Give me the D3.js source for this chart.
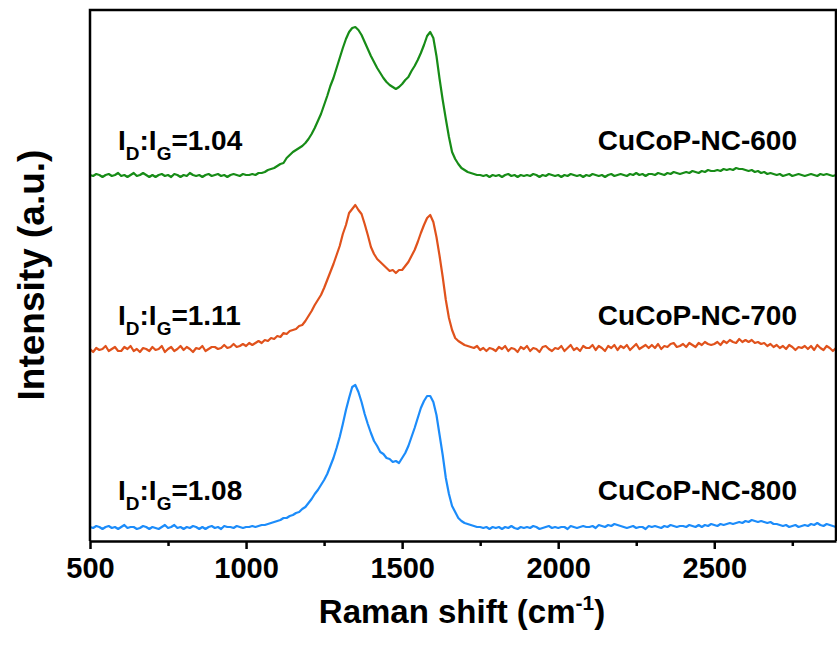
<!DOCTYPE html>
<html>
<head>
<meta charset="utf-8">
<script src="https://cdn.jsdelivr.net/npm/d3@7"></script>
<style>
  html, body { margin: 0; padding: 0; background: #fff; }
  svg { display: block; }
  text { font-family: "Liberation Sans", Arial, Helvetica, sans-serif; font-weight: bold; fill: #000; }
</style>
</head>
<body>
<script>
// Raman shift grid: 500 .. 2890 cm^-1, step 10
const shiftStart = 500, shiftStep = 10;

// Intensities (a.u., stacked with offsets as in the figure)
const nc800 = [
  14,13,15,14,12,14,15,13,14,12, 14,16,13,14,14,12,13,15,14,12,
  14,13,12,14,16,13,14,16,13,14, 12,14,13,15,14,12,14,12,14,15,
  13,14,12,15,14,14,13,15,14,13,
  14,14,15,14,15,16,16,17,18,19,
  20,21,23,23,25,26,28,29,32,34,
  38,42,47,51,56,61,67,75,83,93,
  104,117,131,143,154,156,149,139,127,117,
  108,100,95,89,87,83,82,79,80,78,
  83,88,95,104,113,123,133,140,145,145,
  139,126,106,86,63,47,35,29,23,20,
  18,17,16,15,14,14,13,14,12,14,
  13,14,12,14,13,15,13,12,14,13,
  14,13,15,14,12,13,14,15,13,14,
  13,14,14,12,15,14,13,14,15,14,
  14,15,13,16,15,14,16,15,17,16,
  15,14,13,14,15,13,14,14,12,15,
  14,15,14,13,15,14,16,15,14,15,
  15,14,16,15,14,16,14,16,15,17,
  16,15,17,16,17,18,17,18,19,18,
  20,19,21,20,19,20,19,18,19,17,
  17,16,15,16,14,15,16,14,15,16,
  15,17,16,18,16,15,17,16,15,14
];

const nc700 = [
  192,189,193,191,192,195,190,192,194,190, 190,194,192,195,190,192,189,193,192,190,
  194,191,192,195,189,192,194,190,192,195, 191,194,192,189,193,192,195,190,192,194,
  194,192,193,196,193,194,197,194,195,197,
  195,198,196,198,200,198,201,200,203,202,
  205,204,208,207,210,211,212,215,216,220,
  225,230,236,241,246,253,261,269,277,286,
  295,307,316,328,332,336,331,327,317,306,
  294,287,282,279,276,273,270,271,268,271,
  271,275,279,285,291,299,308,316,323,326,
  319,304,285,264,241,223,211,203,200,198,
  196,195,194,193,195,191,193,190,193,192,
  190,194,192,195,190,193,192,189,194,192,
  195,190,193,192,189,194,195,192,190,193,
  192,195,190,193,196,191,193,190,195,193,
  193,196,191,195,193,190,195,193,196,191,
  195,193,196,191,194,197,192,194,196,193,
  196,193,197,192,195,194,197,198,194,195,
  197,194,198,196,194,198,196,199,197,196,
  197,199,196,200,198,201,199,198,202,199,
  201,199,201,198,199,197,198,195,197,194,
  196,193,195,192,196,194,191,194,193,195,
  192,195,191,196,193,191,195,193,190,193
];

const nc600 = [
  366,365,367,366,364,366,367,365,366,368, 365,366,364,366,368,365,366,368,366,364,
  366,364,366,367,365,366,364,367,366,364, 366,365,368,366,365,366,364,366,367,365,
  366,367,365,366,364,366,367,366,365,367,
  366,366,367,366,368,368,369,371,372,373,
  375,377,378,383,386,389,391,393,395,398,
  402,407,413,420,427,436,445,455,463,473,
  483,493,502,509,513,514,511,506,499,492,
  485,479,473,468,463,459,456,454,452,454,
  457,461,464,470,475,481,488,496,505,509,
  503,485,462,441,422,404,389,382,377,373,
  371,369,368,367,366,366,365,366,364,366,
  365,366,364,366,367,365,366,364,366,365,
  366,365,367,366,364,366,365,367,366,365,
  366,364,366,365,367,366,365,366,364,366,
  365,367,366,365,366,364,366,367,365,366,
  367,366,365,367,366,368,366,367,365,367,
  367,366,368,367,366,368,367,369,368,367,
  368,369,368,370,369,368,370,369,371,370,
  370,371,370,372,371,372,371,373,372,372,
  371,370,371,369,370,368,369,367,368,367,
  366,367,365,366,367,365,366,367,366,365,
  366,367,366,365,367,366,367,366,365,366
];

const seriesNames = ["CuCoP-NC-600", "CuCoP-NC-700", "CuCoP-NC-800"];
const seriesColors = ["#178c17", "#e0521c", "#1c8cfa"];
const ratios = ["1.04", "1.11", "1.08"];
const xTicks = [500, 1000, 1500, 2000, 2500];
const xMinorTicks = [750, 1250, 1750, 2250, 2750];

const W = 837, H = 646;
const margin = { left: 90, top: 10, right: 1, bottom: 105 };
const x = d3.scaleLinear().domain([500, 2890]).range([margin.left, W - margin.right]);
const y = d3.scaleLinear().domain([0, 531]).range([H - margin.bottom, margin.top]);

const svg = d3.select("body").append("svg").attr("width", W).attr("height", H);

const allSeries = [nc600, nc700, nc800];
const line = d3.line()
  .x((d, i) => x(shiftStart + i * shiftStep))
  .y(d => y(d));

allSeries.forEach((s, k) => {
  svg.append("path")
    .datum(s)
    .attr("fill", "none")
    .attr("stroke", seriesColors[k])
    .attr("stroke-width", 2.2)
    .attr("stroke-linejoin", "round")
    .attr("d", line);
});

// frame
const x0 = x(500), x1 = x(2890), yTop = y(531), yBot = y(0);
svg.append("path")
  .attr("d", `M${x0},${yBot}V${yTop}H${x1}V${yBot}`)
  .attr("fill", "none").attr("stroke", "#000").attr("stroke-width", 2.5);

// bottom axis
const xAxis = d3.axisBottom(x).tickValues(xTicks).tickFormat(d3.format("d"))
  .tickSize(8).tickSizeOuter(0).tickPadding(6);
const gx = svg.append("g").attr("transform", `translate(0,${yBot})`).call(xAxis);
gx.select(".domain").attr("stroke", "#000").attr("stroke-width", 2.5);
gx.selectAll(".tick line").attr("stroke", "#000").attr("stroke-width", 2.5);
gx.selectAll(".tick text").style("font-size", "29px").style("font-weight", "bold")
  .style("font-family", "'Liberation Sans', Arial, sans-serif").attr("fill", "#000").attr("dy", "0.8em");

const gxm = svg.append("g").attr("transform", `translate(0,${yBot})`)
  .call(d3.axisBottom(x).tickValues(xMinorTicks).tickSize(5).tickFormat(""));
gxm.select(".domain").remove();
gxm.selectAll(".tick line").attr("stroke", "#000").attr("stroke-width", 2.5);

// axis titles
const xt = svg.append("text").attr("x", 462).attr("y", 623).attr("text-anchor", "middle").style("font-size", "33px");
xt.append("tspan").text("Raman shift (cm");
xt.append("tspan").attr("dy", -13).style("font-size", "21px").text("-1");
xt.append("tspan").attr("dy", 13).text(")");

svg.append("text")
  .attr("transform", "translate(44,275) rotate(-90)")
  .attr("text-anchor", "middle").style("font-size", "37px")
  .text("Intensity (a.u.)");

// annotations
const baselines = [150, 325, 500];
baselines.forEach((by, k) => {
  const t = svg.append("text").attr("x", 118).attr("y", by).style("font-size", "28px");
  t.append("tspan").text("I");
  t.append("tspan").attr("dy", 10).style("font-size", "19px").text("D");
  t.append("tspan").attr("dy", -10).text(":I");
  t.append("tspan").attr("dy", 10).style("font-size", "19px").text("G");
  t.append("tspan").attr("dy", -10).text("=" + ratios[k]);

  svg.append("text").attr("x", 797).attr("y", by).attr("text-anchor", "end")
    .style("font-size", "28px").text(seriesNames[k]);
});
</script>
</body>
</html>
